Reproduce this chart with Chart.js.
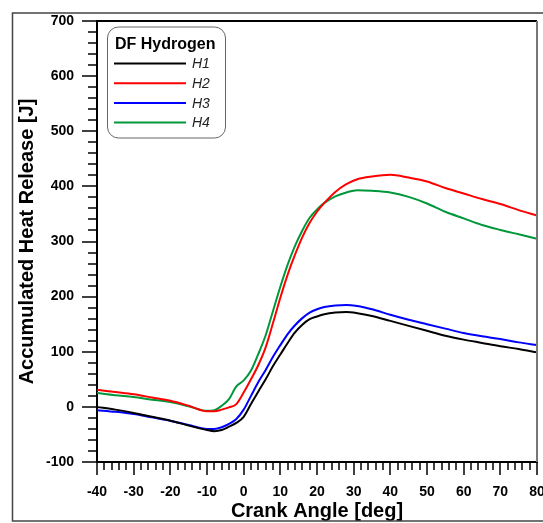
<!DOCTYPE html>
<html>
<head>
<meta charset="utf-8">
<script src="https://cdn.jsdelivr.net/npm/chart.js@4"></script>
<style>
html,body{margin:0;padding:0;background:#fff;}
#wrap{width:543px;height:523px;position:relative;}
</style>
</head>
<body>
<div id="wrap"><canvas id="c" width="543" height="523"></canvas></div>
<script>
const angles = [-40,-35,-30,-25,-20,-15,-10,-8,-6,-4,-2,0,2,4,6,8,10,12,14,16,18,20,22,25,28,31,35,40,45,50,55,60,65,70,75,80];
const h1 = [0,-5,-11,-18,-25,-34,-42,-44,-42,-36,-29,-18,5,28,50,74,95,116,135,149,159,164,168,171,172,170,165,156,147,138,129,122,116,110,105,99];
const h2 = [31,27,23,17,11,2,-8,-8,-5,-1,5,26,50,76,108,152,198,240,276,308,334,354,370,390,404,413,418,421,416,409,397,387,377,368,357,347];
const h3 = [-6,-9,-13,-19,-25,-33,-40,-40,-37,-31,-22,-5,20,45,67,91,112,132,148,161,171,177,181,184,185,183,177,167,158,150,142,134,128,123,117,112];
const h4 = [25,21,18,13,9,1,-7,-6,2,14,37,48,66,96,130,174,218,258,292,320,343,358,370,382,389,393,392,389,381,369,354,342,330,321,313,305];
const seriesNames = ['H1','H2','H3','H4'];
const seriesColors = ['#000000','#ff0000','#0000ff','#00973a'];
const legendTitle = 'DF Hydrogen';
const xTitle = 'Crank Angle [deg]';
const yTitle = 'Accumulated Heat Release [J]';

const FONT = '"Liberation Sans", Arial, sans-serif';
const series = [h1,h2,h3,h4];
const datasets = series.map((s,i)=>({
  label: seriesNames[i],
  data: angles.map((a,j)=>({x:a,y:s[j]})),
  borderColor: seriesColors[i],
  backgroundColor: seriesColors[i],
  borderWidth: 2,
  pointRadius: 0,
  cubicInterpolationMode: 'monotone',
  fill: false
}));

const decor = {
  id:'decor',
  afterDraw(chart){
    const ctx = chart.ctx;
    const ca = chart.chartArea;
    const xs = chart.scales.x, ys = chart.scales.y;
    ctx.save();
    // outer frame
    ctx.strokeStyle = '#444';
    ctx.lineWidth = 1.5;
    ctx.strokeRect(12.5, 13, 540, 508);
    // top and right frame
    ctx.strokeStyle = '#000';
    ctx.lineWidth = 2;
    ctx.beginPath(); ctx.moveTo(ca.left, ca.top); ctx.lineTo(ca.right, ca.top); ctx.stroke();
    ctx.strokeStyle = '#777';
    ctx.beginPath(); ctx.moveTo(ca.right, ca.top); ctx.lineTo(ca.right, ca.bottom); ctx.stroke();
    // ticks
    ctx.strokeStyle = '#000';
    ctx.lineWidth = 1.5;
    for (let v = -40; v <= 80; v += 2) {
      const px = Math.round(xs.getPixelForValue(v));
      const len = (v % 10 === 0) ? 13 : 8;
      ctx.beginPath(); ctx.moveTo(px, ca.bottom); ctx.lineTo(px, ca.bottom + len); ctx.stroke();
    }
    for (let v = -100; v <= 700; v += 20) {
      const py = Math.round(ys.getPixelForValue(v));
      const len = (v % 100 === 0) ? 15 : 9;
      ctx.beginPath(); ctx.moveTo(ca.left, py); ctx.lineTo(ca.left - len, py); ctx.stroke();
    }
    // legend
    const lx = 107.5, ly = 27, lw = 118, lh = 111, r = 11;
    ctx.strokeStyle = '#666';
    ctx.lineWidth = 1;
    ctx.fillStyle = '#fff';
    ctx.beginPath();
    ctx.moveTo(lx + r, ly);
    ctx.lineTo(lx + lw - r, ly); ctx.arcTo(lx + lw, ly, lx + lw, ly + r, r);
    ctx.lineTo(lx + lw, ly + lh - r); ctx.arcTo(lx + lw, ly + lh, lx + lw - r, ly + lh, r);
    ctx.lineTo(lx + r, ly + lh); ctx.arcTo(lx, ly + lh, lx, ly + lh - r, r);
    ctx.lineTo(lx, ly + r); ctx.arcTo(lx, ly, lx + r, ly, r);
    ctx.closePath(); ctx.fill(); ctx.stroke();
    ctx.fillStyle = '#000';
    ctx.font = 'bold 16px ' + FONT;
    ctx.textBaseline = 'middle';
    ctx.textAlign = 'left';
    ctx.fillText(legendTitle, 115, 45);
    chart.data.datasets.forEach((ds, i) => {
      const y = 63.5 + i * 19.7;
      ctx.strokeStyle = ds.borderColor;
      ctx.lineWidth = 2;
      ctx.beginPath(); ctx.moveTo(114, y); ctx.lineTo(186, y); ctx.stroke();
      ctx.fillStyle = '#222';
      ctx.font = 'italic 14px ' + FONT;
      ctx.fillText(ds.label, 192, y + 1);
    });
    ctx.restore();
  }
};

new Chart(document.getElementById('c'), {
  type: 'line',
  data: { datasets },
  plugins: [decor],
  options: {
    responsive: false,
    animation: false,
    layout: { padding: { top: 21, right: 6, left: 0, bottom: 0 } },
    plugins: { legend: { display: false }, tooltip: { enabled: false } },
    scales: {
      x: {
        type: 'linear', min: -40, max: 80,
        afterFit(s){ s.height = 61; s.paddingLeft = 0; s.paddingRight = 0; },
        ticks: { stepSize: 10, autoSkip: false, maxRotation: 0, padding: 22, color: '#000',
                 font: { family: FONT, size: 14, weight: 'bold' } },
        grid: { drawOnChartArea: false, drawTicks: false },
        border: { color: '#000', width: 2 },
        title: { display: true, text: xTitle, color: '#000', padding: { top: 0, bottom: 0 },
                 font: { family: FONT, size: 20, weight: 'bold' } }
      },
      y: {
        type: 'linear', min: -100, max: 700,
        afterFit(s){ s.width = 97; s.paddingTop = 0; s.paddingBottom = 0; },
        ticks: { stepSize: 100, autoSkip: false, padding: 23, color: '#000',
                 font: { family: FONT, size: 14, weight: 'bold' } },
        grid: { drawOnChartArea: false, drawTicks: false },
        border: { color: '#000', width: 2 },
        title: { display: true, text: yTitle, color: '#000', padding: { top: 15, bottom: 0 },
                 font: { family: FONT, size: 20, weight: 'bold' } }
      }
    }
  }
});
</script>
</body>
</html>
